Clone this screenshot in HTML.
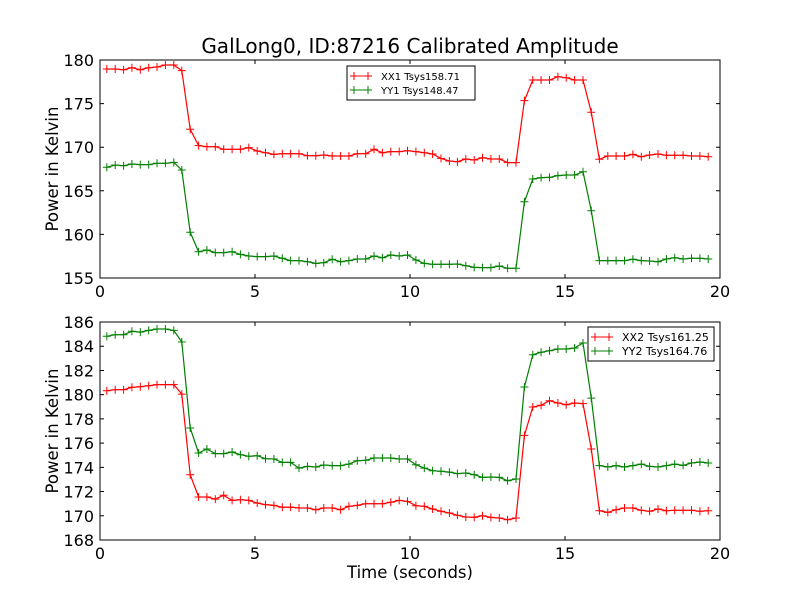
<!DOCTYPE html>
<html><head><meta charset="utf-8"><style>
body{margin:0;background:#fff;}
svg{display:block;font-family:"DejaVu Sans","Liberation Sans",sans-serif;}
</style></head><body>
<svg id="fig" width="800" height="600" viewBox="0 0 800 600" xmlns="http://www.w3.org/2000/svg">
<rect width="800" height="600" fill="#fff"/>
<text x="410" y="53" font-size="20" text-anchor="middle">GalLong0, ID:87216 Calibrated Amplitude</text>
<text x="410" y="578" font-size="16.5" text-anchor="middle">Time (seconds)</text>
</svg>
<script>
const times=[0.22,0.49,0.76,1.03,1.30,1.57,1.84,2.11,2.38,2.64,2.91,3.18,3.45,3.72,3.99,4.26,4.53,4.80,5.07,5.34,5.61,5.88,6.15,6.42,6.69,6.96,7.22,7.49,7.76,8.03,8.30,8.57,8.84,9.11,9.38,9.65,9.92,10.19,10.46,10.73,11.00,11.27,11.53,11.80,12.07,12.34,12.61,12.88,13.15,13.42,13.69,13.96,14.23,14.50,14.77,15.04,15.31,15.58,15.85,16.11,16.38,16.65,16.92,17.19,17.46,17.73,18.00,18.27,18.54,18.81,19.08,19.35,19.62];
const xx1=[178.97,178.97,178.89,179.12,178.89,179.12,179.2,179.43,179.43,178.78,172.05,170.18,170.06,170.06,169.76,169.76,169.76,169.95,169.56,169.37,169.18,169.26,169.26,169.26,169.03,169.03,169.11,168.99,168.99,168.99,169.26,169.26,169.76,169.37,169.49,169.49,169.6,169.49,169.37,169.22,168.72,168.42,168.34,168.65,168.53,168.8,168.65,168.65,168.23,168.23,175.34,177.71,177.71,177.71,178.09,177.97,177.71,177.71,174.0,168.61,168.99,168.99,168.99,169.18,168.91,169.11,169.22,169.07,169.07,169.07,168.99,168.99,168.91];
const yy1=[167.69,167.96,167.88,168.07,168.0,168.0,168.15,168.15,168.26,167.39,160.24,158.02,158.21,157.91,157.91,158.02,157.71,157.52,157.45,157.45,157.52,157.26,156.99,156.99,156.87,156.68,156.76,157.14,156.87,156.99,157.18,157.18,157.52,157.33,157.64,157.52,157.64,157.06,156.68,156.57,156.57,156.57,156.61,156.41,156.22,156.19,156.19,156.38,156.11,156.11,163.75,166.35,166.51,166.54,166.74,166.81,166.81,167.19,162.72,156.99,156.99,156.99,156.99,157.14,156.99,156.95,156.87,157.18,157.33,157.18,157.26,157.26,157.18];
const xx2=[180.33,180.41,180.41,180.61,180.66,180.74,180.83,180.83,180.83,180.05,173.39,171.55,171.55,171.38,171.69,171.27,171.33,171.27,171.05,170.92,170.86,170.7,170.72,170.64,170.64,170.5,170.64,170.64,170.5,170.78,170.86,171.0,171.0,171.0,171.11,171.27,171.19,170.83,170.78,170.56,170.37,170.23,170.04,169.9,169.87,170.01,169.87,169.82,169.68,169.82,176.64,178.98,179.12,179.5,179.31,179.17,179.31,179.26,175.51,170.42,170.28,170.5,170.64,170.64,170.45,170.37,170.56,170.42,170.45,170.45,170.45,170.37,170.42];
const yy2=[184.82,184.95,184.95,185.23,185.17,185.31,185.42,185.42,185.31,184.35,177.25,175.18,175.51,175.13,175.13,175.27,175.04,174.91,174.96,174.71,174.69,174.41,174.41,173.94,174.08,174.03,174.19,174.14,174.14,174.27,174.55,174.58,174.77,174.77,174.77,174.69,174.69,174.22,173.94,173.72,173.67,173.61,173.48,173.53,173.39,173.17,173.2,173.17,172.9,173.04,180.63,183.3,183.5,183.63,183.77,183.77,183.85,184.27,179.72,174.14,174.03,174.14,174.03,174.14,174.27,174.08,174.03,174.14,174.27,174.16,174.36,174.44,174.36];
const xTicks=[0,5,10,15,20];
const topYTicks=[155,160,165,170,175,180];
const botYTicks=[168,170,172,174,176,178,180,182,184,186];
const legendTop=["XX1 Tsys158.71","YY1 Tsys148.47"];
const legendBot=["XX2 Tsys161.25","YY2 Tsys164.76"];

const NS="http://www.w3.org/2000/svg";
const svg=document.getElementById('fig');
function mk(tag,attrs,parent){const e=document.createElementNS(NS,tag);for(const k in attrs)e.setAttribute(k,attrs[k]);(parent||svg).appendChild(e);return e;}

function panel(name,top,bottom,ymin,ymax,yTicks,series,colors,legend,lg){
  const L=100,R=720;
  const g=mk('g',{});
  
  
  const xs=v=>L+(v-0)/(20-0)*(R-L);
  const ys=v=>bottom-(v-ymin)/(ymax-ymin)*(bottom-top);
  series.forEach((s,si)=>{
    let d='';
    s.forEach((v,i)=>{d+=(i?'L':'M')+xs(times[i]).toFixed(1)+' '+ys(v).toFixed(1);});
    const p=mk('path',{d:d,fill:'none',stroke:colors[si],'stroke-width':1.2},g);
    
    
    let m='';
    s.forEach((v,i)=>{const x=xs(times[i]),y=ys(v);m+=`M${(x-4).toFixed(1)} ${y.toFixed(1)}h8M${x.toFixed(1)} ${(y-4).toFixed(1)}v8`;});
    const mp=mk('path',{d:m,fill:'none',stroke:colors[si],'stroke-width':1},g);
    
    
  });
  const fr=mk('rect',{x:L,y:top,width:R-L,height:bottom-top,fill:'none',stroke:'#000','stroke-width':1},g);
  
  
  xTicks.forEach(t=>{
    const x=xs(t);
    mk('path',{d:`M${x} ${bottom}v-4M${x} ${top}v4`,stroke:'#000','stroke-width':1},g);
    const tx=mk('text',{x:x,y:bottom+19,'font-size':16,'text-anchor':'middle'},g);
    tx.textContent=t;
    
    
  });
  yTicks.forEach(t=>{
    const y=ys(t);
    mk('path',{d:`M${L} ${y}h4M${R} ${y}h-4`,stroke:'#000','stroke-width':1},g);
    const tx=mk('text',{x:L-6,y:y+6,'font-size':16,'text-anchor':'end'},g);
    tx.textContent=t;
    
    
  });
  const yl=mk('text',{x:0,y:0,'font-size':16.5,'text-anchor':'middle',transform:`translate(58 ${(top+bottom)/2}) rotate(-90)`},g);
  yl.textContent='Power in Kelvin';
  
  
  const lgG=mk('g',{},g);
  
  
  mk('rect',{x:lg.x,y:lg.y,width:lg.w,height:34,fill:'#fff',stroke:'#000','stroke-width':1},lgG);
  legend.forEach((lab,i)=>{
    const y=lg.y+10+i*14;
    const le=mk('g',{},lgG);
    
    
    mk('path',{d:`M${lg.x+3} ${y}h22M${lg.x+7} ${y-4}v8M${lg.x+21} ${y-4}v8`,stroke:colors[i],'stroke-width':1},le);
    const t=mk('text',{x:lg.x+lg.tx,y:y+4,'font-size':lg.fs},le);
    t.textContent=lab;
  });
}
panel('top-chart',60,278,155,180,topYTicks,[xx1,yy1],['#ff0000','#008000'],legendTop,{x:347,y:66,w:128,tx:34,fs:10});
panel('bottom-chart',322,540,168,186,botYTicks,[xx2,yy2],['#ff0000','#008000'],legendBot,{x:588,y:327,w:126,tx:34,fs:11});
</script>
</body></html>
